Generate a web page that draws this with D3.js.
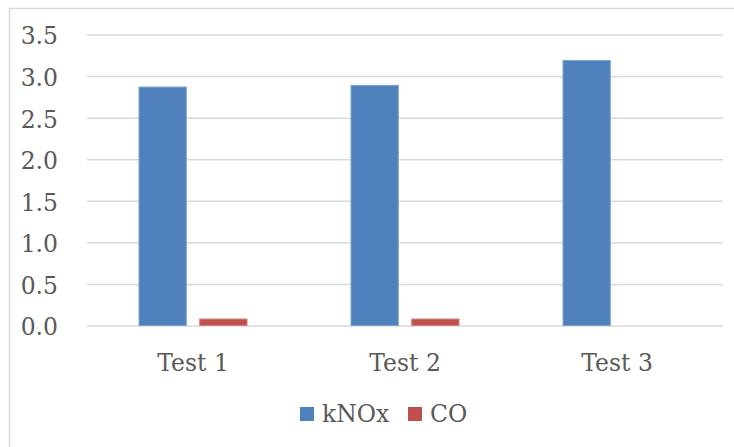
<!DOCTYPE html>
<html>
<head>
<meta charset="utf-8">
<script src="https://cdn.jsdelivr.net/npm/d3@7"></script>
<style>
  html, body { margin: 0; padding: 0; background: #fff; }
  svg { display: block; }
  text { font-family: "DejaVu Serif", serif; fill: #595959; }
</style>
</head>
<body>
<svg id="chart" width="734" height="447"></svg>
<script>
const categories = ["Test 1", "Test 2", "Test 3"];
const seriesNames = ["kNOx", "CO"];
const kNOx = [2.88, 2.90, 3.20];
const CO = [0.09, 0.09, 0];
const yTicks = [0, 0.5, 1.0, 1.5, 2.0, 2.5, 3.0, 3.5];
const colors = ["#4f81bd", "#c0504d"];
const strokes = ["#7ea3d3", "#d9817f"];

const seriesValues = [kNOx, CO];
const W = 734, H = 447;
const plot = { left: 87, right: 723, top: 35, bottom: 326 };
const FS = 23.5;

const svg = d3.select("#chart");

// outer chart border (left and top visible)
svg.append("rect")
  .attr("x", 9.5).attr("y", 8.5)
  .attr("width", W + 20).attr("height", H + 20)
  .attr("fill", "none").attr("stroke", "#d9d9d9").attr("stroke-width", 1.5);

const y = d3.scaleLinear().domain([0, 3.5]).range([plot.bottom, plot.top]);
const x0 = d3.scaleBand().domain(categories).range([plot.left, plot.right]).padding(0);
const groupW = 109;
const x1 = d3.scaleBand().domain(seriesNames).range([-groupW / 2, groupW / 2])
  .paddingInner(0.204).paddingOuter(0);

// gridlines
svg.append("g").selectAll("line").data(yTicks).join("line")
  .attr("x1", plot.left).attr("x2", plot.right)
  .attr("y1", d => y(d)).attr("y2", d => y(d))
  .attr("stroke", "#d9d9d9").attr("stroke-width", 1.5);

// y labels
const yAxis = d3.axisLeft(y).tickValues(yTicks).tickFormat(d3.format(".1f")).tickSize(0).tickPadding(0);
const yg = svg.append("g").attr("transform", "translate(58,0)").call(yAxis);
yg.select(".domain").remove();
yg.selectAll("text")
  .attr("font-family", "DejaVu Serif").attr("font-size", FS)
  .attr("fill", "#595959").attr("dy", "0.38em");

// bars
const rows = categories.map((c, i) => ({ cat: c, vals: seriesNames.map((s, j) => ({ s, j, v: seriesValues[j][i] })) }));
const groups = svg.append("g").selectAll("g").data(rows).join("g")
  .attr("transform", d => `translate(${x0(d.cat) + x0.bandwidth() / 2},0)`);
groups.selectAll("rect").data(d => d.vals.filter(v => v.v > 0)).join("rect")
  .attr("x", d => x1(d.s) + 0.5)
  .attr("width", x1.bandwidth() - 1)
  .attr("y", d => y(d.v) + 0.5)
  .attr("height", d => Math.max(0, y(0) - y(d.v) - 1))
  .attr("fill", d => colors[d.j])
  .attr("stroke", d => strokes[d.j]).attr("stroke-width", 1);

// x labels
const xAxis = d3.axisBottom(x0).tickSize(0).tickPadding(0);
const xg = svg.append("g").attr("transform", `translate(0,${plot.bottom + 37})`).call(xAxis);
xg.select(".domain").remove();
xg.selectAll("text")
  .attr("font-family", "DejaVu Serif").attr("font-size", FS)
  .attr("fill", "#595959").attr("dy", "0.36em");

// legend
const legendItems = [
  { name: seriesNames[0], color: colors[0], sx: 300, tx: 322 },
  { name: seriesNames[1], color: colors[1], sx: 408, tx: 430 }
];
const lg = svg.append("g");
lg.selectAll("rect").data(legendItems).join("rect")
  .attr("x", d => d.sx).attr("y", 407).attr("width", 14).attr("height", 14)
  .attr("fill", d => d.color);
lg.selectAll("text").data(legendItems).join("text")
  .attr("x", d => d.tx).attr("y", 414).attr("dy", "0.36em")
  .attr("font-size", FS).attr("fill", "#595959")
  .text(d => d.name);
</script>
</body>
</html>
